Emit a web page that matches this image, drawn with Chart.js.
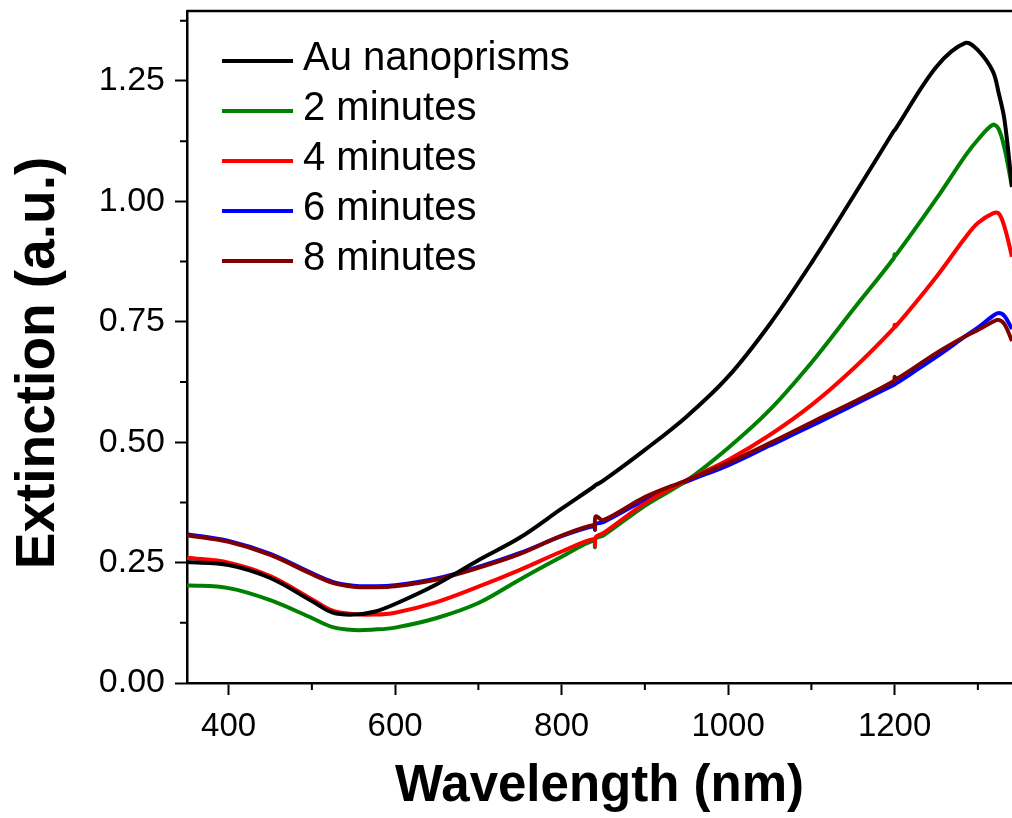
<!DOCTYPE html>
<html>
<head>
<meta charset="utf-8">
<script src="https://cdn.jsdelivr.net/npm/chart.js@4.4.1/dist/chart.umd.min.js"></script>
<style>
  html, body { margin: 0; padding: 0; background: #fff; }
  #wrap { width: 1012px; height: 818px; }
</style>
</head>
<body>
<div id="wrap"><canvas id="spectra" width="1012" height="818"></canvas></div>
<script>
// wavelengths (nm), with the detector glitches at 840 and 1200
const wavelength = [350, 400, 450, 500, 525, 550, 575, 600, 650, 700, 750, 800, 839, 840, 841, 850,
  900, 950, 1000, 1050, 1100, 1150, 1199, 1200, 1201, 1250, 1285, 1300, 1318, 1325, 1332, 1341];

const auNanoprisms = [0.251, 0.245, 0.218, 0.170, 0.146, 0.142, 0.148, 0.164, 0.205, 0.255, 0.302, 0.362, 0.408, 0.410, 0.411, 0.420,
  0.484, 0.553, 0.636, 0.745, 0.872, 1.009, 1.146, 1.148, 1.150, 1.279, 1.329, 1.314, 1.270, 1.225, 1.169, 1.030];
const min2 = [0.203, 0.197, 0.172, 0.135, 0.116, 0.110, 0.111, 0.115, 0.135, 0.166, 0.215, 0.262, 0.296, 0.282, 0.300, 0.306,
  0.368, 0.420, 0.488, 0.567, 0.665, 0.775, 0.882, 0.890, 0.887, 1.005, 1.095, 1.128, 1.159, 1.150, 1.110, 1.030];
const min4 = [0.260, 0.250, 0.222, 0.174, 0.150, 0.143, 0.142, 0.146, 0.168, 0.200, 0.235, 0.273, 0.299, 0.285, 0.303, 0.311,
  0.373, 0.421, 0.463, 0.515, 0.577, 0.652, 0.737, 0.744, 0.740, 0.843, 0.925, 0.955, 0.975, 0.975, 0.947, 0.885];
const min6 = [0.309, 0.295, 0.268, 0.228, 0.210, 0.202, 0.201, 0.203, 0.217, 0.241, 0.270, 0.305, 0.326, 0.320, 0.330, 0.334,
  0.380, 0.418, 0.452, 0.493, 0.534, 0.577, 0.619, 0.620, 0.621, 0.677, 0.720, 0.738, 0.762, 0.768, 0.762, 0.735];
const min8 = [0.307, 0.293, 0.266, 0.226, 0.208, 0.200, 0.199, 0.201, 0.215, 0.239, 0.268, 0.306, 0.328, 0.318, 0.346, 0.338,
  0.386, 0.421, 0.457, 0.498, 0.541, 0.583, 0.627, 0.636, 0.630, 0.685, 0.720, 0.733, 0.750, 0.754, 0.745, 0.710];

const seriesNames = ['Au nanoprisms', '2 minutes', '4 minutes', '6 minutes', '8 minutes'];
const seriesColors = ['#000000', '#008000', '#ff0000', '#0000ff', '#800000'];
const drawOrder = [0, 3, 2, 4, 1]; // lower = drawn on top

const xTicks = [400, 600, 800, 1000, 1200];
const xMinorTicks = [500, 700, 900, 1100, 1300];
const yTicks = [0, 0.25, 0.5, 0.75, 1.0, 1.25];
const yMinorTicks = [0.125, 0.375, 0.625, 0.875, 1.125, 1.375];

const FONT = "'Liberation Sans', Arial, sans-serif";

const allSeries = [auNanoprisms, min2, min4, min6, min8];
const datasets = allSeries.map((vals, i) => ({
  label: seriesNames[i],
  data: wavelength.map((w, j) => ({ x: w, y: vals[j] })),
  borderColor: seriesColors[i],
  borderWidth: 4,
  pointRadius: 0,
  tension: 0.35,
  order: drawOrder[i]
}));

// frame top line, minor ticks, rotated y title and the in-plot legend
const extras = {
  id: 'extras',
  afterDraw(chart) {
    const ctx = chart.ctx;
    const area = chart.chartArea;
    const xs = chart.scales.x, ys = chart.scales.y;
    ctx.save();
    ctx.strokeStyle = '#000';
    ctx.lineWidth = 2.5;
    ctx.beginPath();
    ctx.moveTo(area.left, area.top);
    ctx.lineTo(area.right, area.top);
    ctx.stroke();

    ctx.lineWidth = 2;
    ctx.beginPath();
    xMinorTicks.forEach(v => {
      const px = xs.getPixelForValue(v);
      ctx.moveTo(px, area.bottom);
      ctx.lineTo(px, area.bottom + 7);
    });
    yMinorTicks.forEach(v => {
      const py = ys.getPixelForValue(v);
      ctx.moveTo(area.left, py);
      ctx.lineTo(area.left - 7, py);
    });
    ctx.stroke();

    // y title
    ctx.save();
    ctx.translate(39, 363);
    ctx.rotate(-Math.PI / 2);
    ctx.font = 'bold 55px ' + FONT;
    ctx.fillStyle = '#000';
    ctx.textAlign = 'center';
    ctx.textBaseline = 'middle';
    ctx.fillText('Extinction (a.u.)', 0, 0);
    ctx.restore();

    // legend
    ctx.font = '40px ' + FONT;
    ctx.textAlign = 'left';
    ctx.textBaseline = 'middle';
    seriesNames.forEach((name, i) => {
      const y = 61 + i * 50;
      ctx.strokeStyle = seriesColors[i];
      ctx.lineWidth = 4;
      ctx.beginPath();
      ctx.moveTo(222, y);
      ctx.lineTo(293, y);
      ctx.stroke();
      ctx.fillStyle = '#000';
      ctx.fillText(name, 303, y - 2);
    });
    ctx.restore();
  }
};

new Chart(document.getElementById('spectra'), {
  type: 'line',
  data: { datasets },
  options: {
    responsive: false,
    animation: false,
    devicePixelRatio: 1,
    layout: { padding: { top: 11, right: 0, left: 0, bottom: 0 } },
    plugins: { legend: { display: false }, tooltip: { enabled: false } },
    scales: {
      x: {
        type: 'linear',
        min: 350,
        max: 1341,
        afterFit(scale) {
          scale.height = 135;
          scale.paddingLeft = 0;
          scale.paddingRight = 0;
        },
        afterBuildTicks(scale) { scale.ticks = xTicks.map(v => ({ value: v })); },
        border: { display: true, color: '#000', width: 2.5 },
        grid: { drawOnChartArea: false, drawTicks: true, tickLength: 12, tickColor: '#000', tickWidth: 2 },
        ticks: {
          autoSkip: false, maxRotation: 0, padding: 12, color: '#000',
          font: { family: FONT, size: 33 },
          callback: v => String(v)
        },
        title: {
          display: true, text: 'Wavelength (nm)', color: '#000',
          font: { family: FONT, size: 51, weight: 'bold', lineHeight: 1.2 },
          padding: { top: 0, bottom: 0 }
        }
      },
      y: {
        type: 'linear',
        min: 0,
        max: 1.3953,
        afterFit(scale) {
          scale.width = 187;
          scale.paddingTop = 0;
          scale.paddingBottom = 0;
        },
        afterBuildTicks(scale) { scale.ticks = yTicks.map(v => ({ value: v })); },
        border: { display: true, color: '#000', width: 2.5 },
        grid: { drawOnChartArea: false, drawTicks: true, tickLength: 12, tickColor: '#000', tickWidth: 2 },
        ticks: {
          autoSkip: false, padding: 10, color: '#000',
          font: { family: FONT, size: 34 },
          callback: v => v.toFixed(2)
        }
      }
    }
  },
  plugins: [extras]
});
</script>
</body>
</html>
